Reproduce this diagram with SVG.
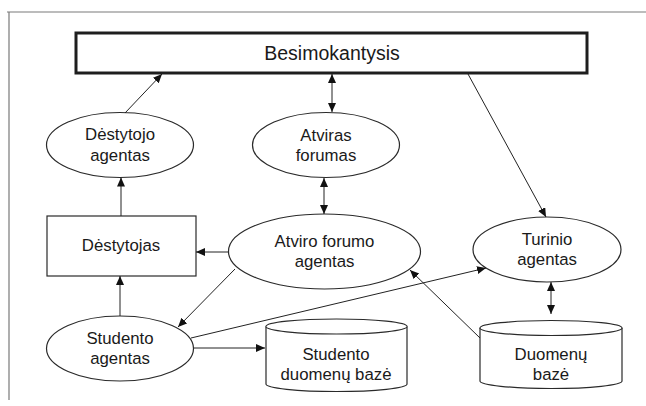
<svg xmlns="http://www.w3.org/2000/svg" width="646" height="406" viewBox="0 0 646 406">
  <style>
    .frame { fill: none; stroke: #7a7a7a; stroke-width: 1.2; }
    .shape { fill: #ffffff; stroke: #2a2a2a; stroke-width: 1.2; }
    .main { fill: #ffffff; stroke: #1e1e1e; stroke-width: 3; }
    .edge { fill: none; stroke: #222222; stroke-width: 1; }
    text { font-family: "Liberation Sans", Arial, sans-serif; font-size: 16.8px; fill: #1a1a1a; text-anchor: middle; }
    .title { font-size: 19.5px; }
  </style>
  <defs>
    <marker id="arrow" markerUnits="userSpaceOnUse" markerWidth="10" markerHeight="9" refX="9" refY="4" orient="auto-start-reverse">
      <path d="M0,0 L9,4 L0,8 Z" fill="#111111"/>
    </marker>
  </defs>

  <!-- page frame -->
  <path class="frame" d="M7,12 H646 M9,12 V400"/>

  <g id="besimokantysis">
    <rect class="main" x="76" y="33" width="511" height="40"/>
    <text class="title" x="332" y="60">Besimokantysis</text>
  </g>

  <g id="destytojo-agentas">
    <ellipse class="shape" cx="120" cy="145" rx="73.5" ry="32.5"/>
    <text x="120" y="140">Dėstytojo</text>
    <text x="120" y="161">agentas</text>
  </g>

  <g id="atviras-forumas">
    <ellipse class="shape" cx="326" cy="145" rx="73.5" ry="32.5"/>
    <text x="326" y="141">Atviras</text>
    <text x="326" y="161">forumas</text>
  </g>

  <g id="destytojas">
    <rect class="shape" x="47" y="216" width="149" height="60"/>
    <text x="121" y="251">Dėstytojas</text>
  </g>

  <g id="atviro-forumo-agentas">
    <ellipse class="shape" cx="324.5" cy="251.5" rx="96" ry="37.5"/>
    <text x="324.5" y="247">Atviro forumo</text>
    <text x="324.5" y="267">agentas</text>
  </g>

  <g id="turinio-agentas">
    <ellipse class="shape" cx="547" cy="249.5" rx="74" ry="32.5"/>
    <text x="547" y="245">Turinio</text>
    <text x="547" y="265">agentas</text>
  </g>

  <g id="studento-agentas">
    <ellipse class="shape" cx="120" cy="348.5" rx="73.5" ry="32.5"/>
    <text x="120" y="344">Studento</text>
    <text x="120" y="364">agentas</text>
  </g>

  <g id="studento-duomenu-baze">
    <path class="shape" d="M266,326.5 A70.5,7.5 0 0 1 407,326.5 L407,384 A70.5,7.5 0 0 1 266,384 Z"/>
    <path class="shape" d="M266,326.5 A70.5,7.5 0 0 0 407,326.5"/>
    <text x="336" y="360">Studento</text>
    <text x="336" y="380">duomenų bazė</text>
  </g>

  <g id="duomenu-baze">
    <path class="shape" d="M480,328 A71,7.5 0 0 1 622,328 L622,381 A71,7.5 0 0 1 480,381 Z"/>
    <path class="shape" d="M480,328 A71,7.5 0 0 0 622,328"/>
    <text x="551" y="360">Duomenų</text>
    <text x="551" y="380">bazė</text>
  </g>

  <g id="connectors">
    <path class="edge" d="M125,113 L162,74" marker-end="url(#arrow)"/>
    <path class="edge" d="M332,74 L332,112" marker-start="url(#arrow)" marker-end="url(#arrow)"/>
    <path class="edge" d="M468,74 L546,217" marker-end="url(#arrow)"/>
    <path class="edge" d="M324,178 L324,214" marker-start="url(#arrow)" marker-end="url(#arrow)"/>
    <path class="edge" d="M121,216 L121,177.5" marker-end="url(#arrow)"/>
    <path class="edge" d="M228.5,252 L196,252" marker-end="url(#arrow)"/>
    <path class="edge" d="M235,269 L178,327" marker-end="url(#arrow)"/>
    <path class="edge" d="M120,316 L120,276" marker-end="url(#arrow)"/>
    <path class="edge" d="M191,338 L486,268" marker-end="url(#arrow)"/>
    <path class="edge" d="M194,348 L265,348" marker-end="url(#arrow)"/>
    <path class="edge" d="M480,338 L410,270" marker-end="url(#arrow)"/>
    <path class="edge" d="M551,282 L551,314" marker-start="url(#arrow)" marker-end="url(#arrow)"/>
  </g>
</svg>
